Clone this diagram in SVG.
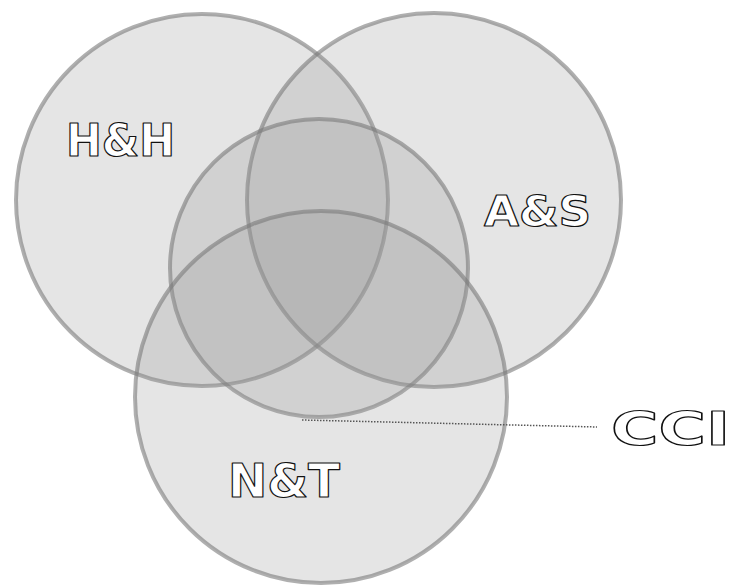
<svg xmlns="http://www.w3.org/2000/svg" width="733" height="586" viewBox="0 0 733 586">
  <style>
    .set { fill: #999999; fill-opacity: 0.25; stroke: #7a7a7a; stroke-opacity: 0.6; stroke-width: 4; }
    .label { font-family: "DejaVu Sans", "Liberation Sans", sans-serif; font-weight: bold; fill: #ffffff; stroke: #111111; stroke-width: 1.2; stroke-linejoin: round; }
    .leader { stroke: #555555; stroke-width: 1.5; stroke-dasharray: 1.5 1.5; fill: none; }
  </style>
  <rect width="733" height="586" fill="#ffffff"/>

  <g id="hh">
    <circle class="set" cx="202" cy="200" r="186"/>
    <text class="label" x="66" y="156" font-size="44" textLength="109" lengthAdjust="spacingAndGlyphs">H&amp;H</text>
  </g>
  <g id="as">
    <circle class="set" cx="434" cy="200" r="187"/>
    <text class="label" x="484" y="226" font-size="43" textLength="107" lengthAdjust="spacingAndGlyphs">A&amp;S</text>
  </g>
  <g id="cci-core">
    <circle class="set" cx="319" cy="268" r="149"/>
  </g>
  <g id="nt">
    <circle class="set" cx="321" cy="397" r="186"/>
    <text class="label" x="228" y="497" font-size="47" textLength="112" lengthAdjust="spacingAndGlyphs">N&amp;T</text>
  </g>

  <g id="connectors">
    <line class="leader" x1="302" y1="420" x2="597" y2="427"/>
  </g>

  <g id="cci">
    <text class="label" x="611" y="445" font-size="46" textLength="119" lengthAdjust="spacingAndGlyphs">CCI</text>
  </g>
</svg>
